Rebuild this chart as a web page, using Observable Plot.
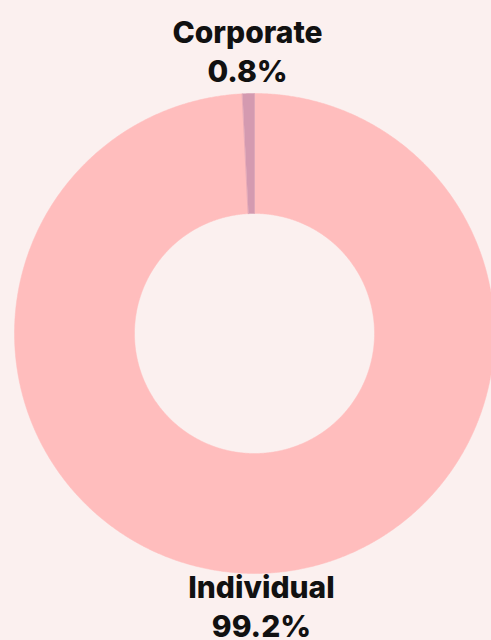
<!DOCTYPE html>
<html><head><meta charset="utf-8">
<script src="https://cdn.jsdelivr.net/npm/d3@7"></script>
<script src="https://cdn.jsdelivr.net/npm/@observablehq/plot@0.6"></script>
<style>
html,body{margin:0;padding:0;background:#FBF0EF;}
#chart{width:491px;height:640px;overflow:hidden;}
</style>
</head><body><div id="chart"></div>
<script>
const categories = ["Individual", "Corporate"];
const values = [99.2, 0.8];
const labels = ["99.2%", "0.8%"];
const colors = ["#FFBDBD", "#D49AB0"];

const total = d3.sum(values);
const innerR = 0.5;
const slices = [];
let start = 0;
categories.forEach((c, i) => {
  const a0 = start / total * 2 * Math.PI;
  const a1 = (start + values[i]) / total * 2 * Math.PI;
  start += values[i];
  slices.push({cat: c, a0, a1, mid: (a0 + a1) / 2, label: c + "\n" + labels[i]});
});
const poly = [];
slices.forEach(s => {
  const n = Math.max(4, Math.ceil((s.a1 - s.a0) / 0.005));
  for (let k = 0; k <= n; k++) {
    const a = s.a0 + (s.a1 - s.a0) * k / n;
    poly.push({cat: s.cat, x: Math.sin(a), y: Math.cos(a)});
  }
  for (let k = n; k >= 0; k--) {
    const a = s.a0 + (s.a1 - s.a0) * k / n;
    poly.push({cat: s.cat, x: innerR * Math.sin(a), y: innerR * Math.cos(a)});
  }
});
const labelR = 1.155;
const labelData = slices.map(s => ({label: s.label, x: labelR * Math.sin(s.mid), y: labelR * Math.cos(s.mid)}));

const chart = Plot.plot({
  width: 491, height: 640,
  margin: 0,
  style: {background: "#FBF0EF", fontFamily: "Inter, 'Open Sans', sans-serif"},
  x: {domain: [-1, 1], range: [14, 494], axis: null},
  y: {domain: [-1, 1], range: [573, 93], axis: null},
  color: {domain: categories, range: colors},
  marks: [
    Plot.line(poly, {x: "x", y: "y", z: "cat", fill: "cat", stroke: "cat", strokeWidth: 0.5, curve: "linear-closed"}),
    Plot.text(labelData, {x: "x", y: "y", text: "label", fontSize: 30, fontWeight: 800, fill: "#111", lineHeight: 1.3, lineAnchor: "middle", dy: -6})
  ]
});
document.getElementById("chart").appendChild(chart);
</script>
</body></html>
